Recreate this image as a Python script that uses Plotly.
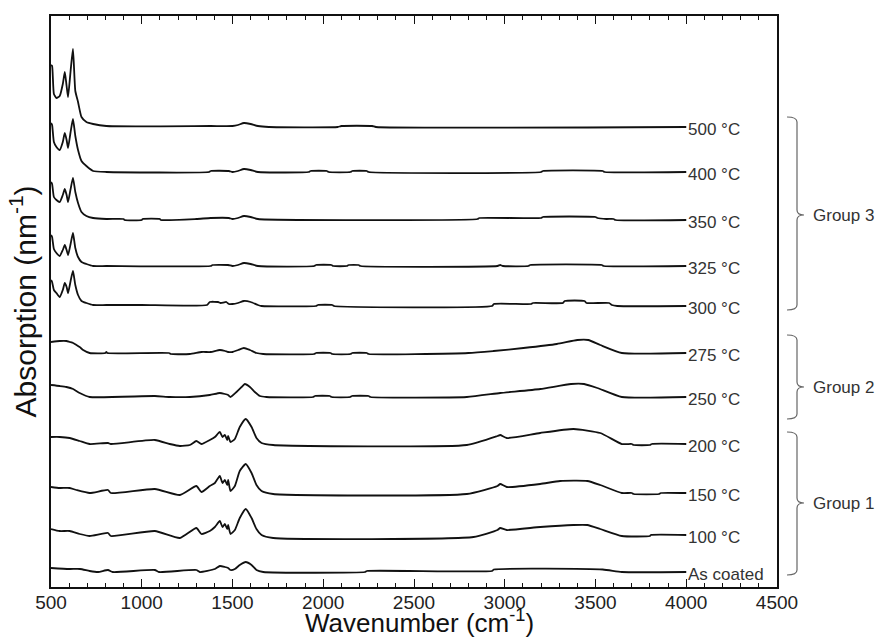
import plotly.graph_objects as go

# ---------------- data (absorption in arbitrary units, stacked with offsets) ----------------
labels = ["500 °C", "400 °C", "350 °C", "325 °C", "300 °C", "275 °C", "250 °C",
          "200 °C", "150 °C", "100 °C", "As coated"]
offsets = [461, 415, 368, 321, 282, 234, 190, 143, 94, 51, 15]

wn_g3_left = [500, 506, 516, 530, 548, 565, 576, 586, 594, 608, 621, 634, 649, 668, 695, 732, 805]

ab_500_left = [61, 60, 32, 28, 30, 42, 54, 40, 29, 55, 77, 35, 24, 9, 4, 2, 0]
ab_400_left = [49, 47, 30, 25, 22, 30, 39, 32, 24, 40, 53, 36, 22, 11, 6, 1, 0]
ab_350_left = [37, 35, 22, 19, 17, 24, 30, 24, 17, 30, 41, 27, 16, 7, 3, 1, 0]
ab_325_left = [31, 29, 17, 13, 10, 16, 21, 16, 11, 22, 33, 18, 9, 4, 2, 0, 0]
ab_300_left = [25, 23, 15, 12, 8, 15, 22, 18, 12, 24, 34, 20, 10, 4, 2, 0, 0]

wn_500_tail = [1380, 1500, 1530, 1563, 1600, 1640, 1700, 2080, 2100, 2270, 2290, 4000]
ab_500_tail = [0, 0, 1, 3, 2, 0, -1, -1, 0, 0, -1, -1]

wn_400_tail = [1370, 1380, 1480, 1500, 1530, 1563, 1600, 1640, 1920, 1930, 2020, 2030,
               2150, 2160, 2240, 2250, 3200, 3210, 3540, 3550, 4000]
ab_400_tail = [0, 1, 1, 0, 1, 3, 2, 0, 0, 1, 1, 0, 0, 1, 1, 0, 0, 1, 1, 0, 0]

wn_350_tail = [900, 905, 1000, 1005, 1100, 1105, 1300, 1380, 1480, 1500, 1530, 1563, 1600,
               1640, 2850, 2860, 3200, 3210, 3500, 3510, 3560, 3600, 3610, 4000]
ab_350_tail = [0, -1, -1, 0, 0, -1, 0, 1, 1, 0, 1, 3, 2, 0, 0, 1, 1, 2, 2, 1, 0, 0, -1, -1]

wn_325_tail = [1380, 1390, 1476, 1500, 1530, 1563, 1600, 1640, 1950, 1960, 2045, 2055, 2130,
               2140, 2195, 2205, 2960, 2975, 2990, 3130, 3140, 3535, 3545, 4000]
ab_325_tail = [0, 1, 1, 0, 1, 3, 2, 0, 0, 1, 1, 0, 0, 1, 1, 0, 0, 1, 0, 0, 1, 1, 0, 0]

wn_300_tail = [1000, 1360, 1375, 1420, 1435, 1466, 1480, 1500, 1530, 1563, 1600, 1640, 1660,
               1960, 1970, 2050, 2060, 2930, 2940, 3145, 3155, 3320, 3330, 3440, 3450, 3575,
               3590, 3620, 4000]
ab_300_tail = [0, 0, 3, 3, 2, 3, 1, 1, 2, 4, 3, 0, -1, -1, 0, 0, -1, -1, 1, 1, 2, 2, 4, 4,
               2, 2, 0, -1, -1]

wn_275 = [500, 548, 585, 603, 622, 640, 658, 677, 713, 800, 805, 810, 1150, 1160, 1265, 1330,
          1380, 1430, 1460, 1476, 1500, 1531, 1563, 1596, 1632, 1669, 1950, 1960, 2040, 2050,
          2150, 2160, 2240, 2250, 2800, 2938, 3103, 3287, 3400, 3460, 3526, 3645, 4000]
ab_275 = [11, 12, 12, 11, 10, 8, 6, 3, 0, 0, 1, 0, 0, -1, -1, 1, 1, 3, 2, 1, 1, 3, 5, 3, 0,
          -1, -1, 0, 0, -1, -1, 0, 0, -1, 0, 2, 5, 9, 13, 13, 8, 0, 0]

wn_250 = [500, 548, 585, 622, 658, 713, 1072, 1154, 1265, 1375, 1430, 1458, 1476, 1489, 1522,
          1550, 1568, 1596, 1623, 1651, 1687, 1944, 1954, 2036, 2046, 2148, 2158, 2250, 2260,
          2791, 2975, 3196, 3365, 3437, 3510, 3645, 4000]
ab_250 = [12, 11, 10, 8, 4, 0, 1, 0, 0, 2, 4, 3, 2, 0, 5, 10, 13, 10, 5, 1, 0, 0, 1, 1, 0, 0,
          1, 1, 0, 0, 4, 8, 13, 13, 9, 0, 0]

wn_200 = [500, 548, 603, 658, 713, 814, 830, 1072, 1154, 1210, 1265, 1301, 1329, 1375, 1403,
          1430, 1445, 1458, 1471, 1476, 1489, 1513, 1540, 1573, 1605, 1632, 1660, 1724, 2791,
          2960, 2975, 3011, 3195, 3379, 3526, 3645, 3700, 3710, 3800, 3810, 4000]
ab_200 = [7, 7, 6, 3, 0, 1, 0, 4, 0, -2, -1, 3, 0, 4, 7, 12, 7, 9, 4, 8, 2, 5, 17, 25, 17, 6,
          1, -1, -1, 8, 9, 6, 11, 15, 11, 0, 0, -1, -1, 0, 0]

wn_150 = [500, 548, 603, 640, 713, 814, 830, 1072, 1210, 1301, 1329, 1375, 1403, 1430, 1445,
          1458, 1471, 1476, 1489, 1513, 1540, 1573, 1605, 1632, 1660, 1724, 2791, 2960, 2975,
          3011, 3195, 3305, 3455, 3526, 3645, 3700, 3710, 3850, 3860, 4000]
ab_150 = [6, 5, 5, 3, 0, 3, 0, 4, -2, 7, 1, 7, 10, 17, 10, 13, 8, 13, 2, 7, 22, 29, 20, 8, 2,
          -1, -1, 7, 9, 6, 9, 12, 12, 8, 0, 0, -1, -1, 0, 0]

wn_100 = [500, 548, 603, 658, 713, 814, 830, 1072, 1210, 1301, 1329, 1375, 1403, 1430, 1445,
          1458, 1471, 1476, 1489, 1513, 1540, 1573, 1605, 1632, 1660, 1724, 2828, 2960, 2975,
          3011, 3196, 3378, 3455, 3526, 3645, 3800, 3805, 4000]
ab_100 = [7, 5, 5, 2, 0, 3, 0, 5, -2, 8, 2, 5, 9, 15, 9, 12, 7, 11, 2, 6, 18, 27, 18, 7, 1,
          -2, -1, 6, 8, 6, 9, 11, 11, 7, 0, 0, 1, 1]

wn_coated = [500, 600, 660, 713, 760, 814, 840, 1072, 1095, 1301, 1320, 1403, 1430, 1458, 1476,
             1489, 1513, 1540, 1573, 1605, 1632, 1669, 2230, 2240, 2930, 2940, 3540, 3645, 4000]
ab_coated = [4, 3, 3, 1, 0, 2, 0, 2, 0, 2, 0, 3, 6, 5, 4, 2, 3, 7, 10, 7, 2, 0, 0, 1, 1, 2.5,
             2.5, 0, 0]

spectra_wn = [wn_g3_left + wn_500_tail, wn_g3_left + wn_400_tail, wn_g3_left + wn_350_tail,
              wn_g3_left + wn_325_tail, wn_g3_left + wn_300_tail,
              wn_275, wn_250, wn_200, wn_150, wn_100, wn_coated]
spectra_ab = [ab_500_left + ab_500_tail, ab_400_left + ab_400_tail, ab_350_left + ab_350_tail,
              ab_325_left + ab_325_tail, ab_300_left + ab_300_tail,
              ab_275, ab_250, ab_200, ab_150, ab_100, ab_coated]

group_names = ["Group 3", "Group 2", "Group 1"]
group_top = [470, 252, 155]
group_bottom = [277, 168, 12]
group_mid = [372, 200, 84]

x_ticks = [500, 1000, 1500, 2000, 2500, 3000, 3500, 4000, 4500]

# ---------------- figure ----------------
FONT = "Liberation Sans, Arial, sans-serif"
fig = go.Figure()

for wn, ab, off, lab in zip(spectra_wn, spectra_ab, offsets, labels):
    y = [v + off for v in ab]
    fig.add_trace(go.Scatter(x=wn, y=y, mode="lines",
                             line=dict(color="#111111", width=1.8, shape="spline",
                                       smoothing=0.5),
                             showlegend=False, hoverinfo="skip"))
    fig.add_annotation(x=wn[-1], y=y[-1], text=lab, showarrow=False,
                       xanchor="left", yanchor="middle", xshift=0, yshift=-2,
                       font=dict(family=FONT, size=17, color="#333333"))

L, R, T, B = 51, 111, 16, 52
W, H = 888, 639
pw = W - L - R
ph = H - T - B


def px_to_paper(px):
    return (px - L) / pw


def py_to_paper(py):
    return (H - B - py) / ph


x_line = px_to_paper(797)
x_hook = px_to_paper(787)
x_nub = px_to_paper(804)
for name, top, bot, mid in zip(group_names, group_top, group_bottom, group_mid):
    r = 5
    path = (f"M {x_hook},{top} Q {x_line},{top} {x_line},{top - r} "
            f"L {x_line},{mid + r} Q {x_line},{mid} {x_nub},{mid} "
            f"Q {x_line},{mid} {x_line},{mid - r} "
            f"L {x_line},{bot + r} Q {x_line},{bot} {x_hook},{bot}")
    fig.add_shape(type="path", path=path, xref="paper", yref="y",
                  line=dict(color="#666666", width=1.2))
    fig.add_annotation(x=px_to_paper(811), y=mid, xref="paper", yref="y", text=name,
                       showarrow=False, xanchor="left", yanchor="middle",
                       font=dict(family=FONT, size=17, color="#333333"))

fig.add_annotation(x=px_to_paper(419), y=py_to_paper(638.5), xref="paper", yref="paper",
                   text="Wavenumber (cm<sup>-1</sup>)", showarrow=False,
                   xanchor="center", yanchor="bottom", borderpad=0,
                   font=dict(family=FONT, size=26, color="#111111"))
fig.add_annotation(x=px_to_paper(23), y=0.5, xref="paper", yref="paper",
                   text="Absorption (nm<sup>-1</sup>)", showarrow=False, textangle=-90,
                   xanchor="center", yanchor="middle",
                   font=dict(family=FONT, size=30, color="#111111"))

fig.update_layout(
    width=W, height=H,
    margin=dict(l=L, r=R, t=T, b=B),
    paper_bgcolor="white", plot_bgcolor="white",
    xaxis=dict(range=[500, 4500], tickvals=x_ticks, ticks="inside", ticklen=8,
               tickwidth=1.4, tickcolor="#111111", ticklabelstandoff=-3,
               minor=dict(dtick=100, ticks="inside", ticklen=4, tickwidth=1.2,
                          tickcolor="#111111", showgrid=False),
               showline=True, linecolor="#111111", linewidth=1.6, mirror="ticks",
               showgrid=False, zeroline=False,
               tickfont=dict(family=FONT, size=19, color="#222222")),
    yaxis=dict(range=[0, 571], showticklabels=False, ticks="", showline=True,
               linecolor="#111111", linewidth=1.6, mirror=True,
               showgrid=False, zeroline=False),
)

fig.write_html("out.html", config={"displayModeBar": False},
               post_script="document.body.style.margin='0';"
                           "document.body.style.overflow='hidden';")
